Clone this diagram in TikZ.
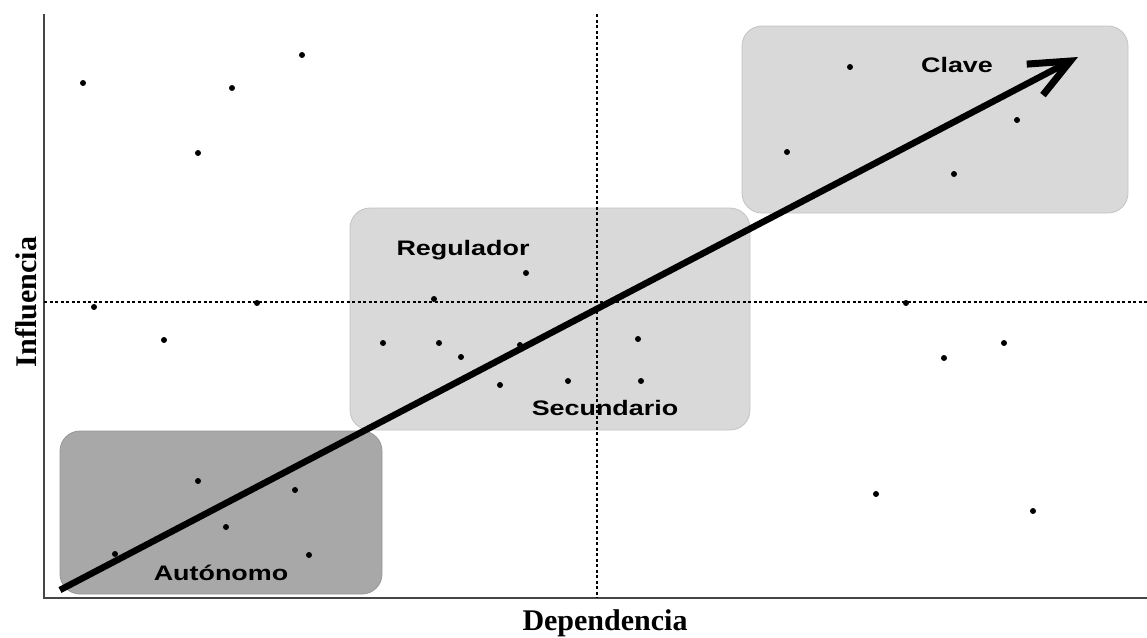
\documentclass[tikz,border=0pt]{standalone}
\usepackage{fontspec}
\setmainfont{Liberation Serif}
\newfontfamily\labelfont{Liberation Sans}
\usepackage{tikz}
\usetikzlibrary{arrows.meta}

\definecolor{boxlight}{RGB}{217,217,217}
\definecolor{boxdark}{RGB}{168,168,168}
\definecolor{axisgray}{RGB}{70,70,70}

\tikzset{
  zone/.style={rounded corners=20pt, draw=#1!90!black, line width=0.8pt, fill=#1},
  zonelabel/.style={font=\labelfont\bfseries\fontsize{21}{25}\selectfont,
       xscale=1.28, anchor=base, inner sep=0pt},
  axislabel/.style={font=\bfseries\fontsize{30}{36}\selectfont, inner sep=0pt},
  quadrant/.style={line width=1.5pt, dash pattern=on 3pt off 2.5pt}
}

\begin{document}
\begin{tikzpicture}[x=1pt,y=-1pt]
\useasboundingbox (0,0) rectangle (1147,637);

\draw[zone=boxdark] (60,431) rectangle (382,594);
\draw[zone=boxlight] (350,208) rectangle (750,430);
\draw[zone=boxlight] (742,26) rectangle (1128,213);

\draw[axisgray, line width=1.6pt] (44,14) -- (44,598) -- (1147,598);
\draw[quadrant] (44,302) -- (1147,302);
\draw[quadrant] (597,14) -- (597,598);

\fill (83,83) circle (3);
\fill (232,88) circle (3);
\fill (302,55) circle (3);
\fill (198,153) circle (3);
\fill (94,307) circle (3);
\fill (257,303) circle (3);
\fill (164,340) circle (3);
\fill (383,343) circle (3);
\fill (434,299) circle (3);
\fill (439,343) circle (3);
\fill (461,357) circle (3);
\fill (520,345) circle (3);
\fill (526,273) circle (3);
\fill (500,385) circle (3);
\fill (568,381) circle (3);
\fill (638,339) circle (3);
\fill (641,381) circle (3);
\fill (787,152) circle (3);
\fill (850,67) circle (3);
\fill (1017,120) circle (3);
\fill (954,174) circle (3);
\fill (906,303) circle (3);
\fill (944,358) circle (3);
\fill (1004,343) circle (3);
\fill (876,494) circle (3);
\fill (1033,511) circle (3);
\fill (198,481) circle (3);
\fill (295,490) circle (3);
\fill (226,527) circle (3);
\fill (309,555) circle (3);
\fill (115,554) circle (3);

\node[zonelabel] (regulador) at (463,255) {Regulador};
\node[zonelabel] (secundario) at (605,415) {Secundario};
\node[zonelabel] (clave) at (957,72) {Clave};
\node[zonelabel] (autonomo) at (221,580) {Autónomo};

\node[axislabel] (dependencia) at (605,623) {Dependencia};
\node[axislabel, rotate=90] (influencia) at (26,302) {Influencia};

\coordinate (start) at (60,590);
\coordinate (tip) at (1078,57);
\draw[line width=6.5pt,
  -{Straight Barb[length=40pt, width=35pt, line width=7pt]}] (start) -- (tip);
\end{tikzpicture}
\end{document}
